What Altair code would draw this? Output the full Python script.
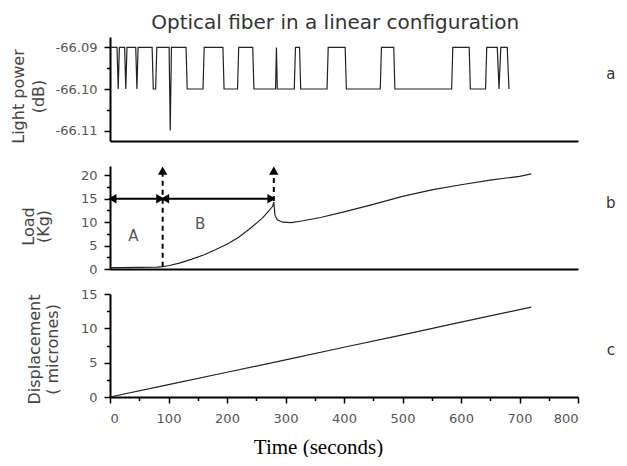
import altair as alt
import pandas as pd

# ---------------- data ----------------
# Panel a: light power (dB) square-wave signal
power_t = [0, 12, 14, 16, 25, 27, 29, 44, 46, 48, 72, 74, 78, 80, 101, 103, 105,
           130, 132, 159, 161, 193, 195, 218, 220, 244, 246, 283, 284.5, 286,
           315, 317, 324, 326, 371, 373, 402, 404, 462, 464, 485, 487, 584, 586,
           614, 616, 642, 644, 662, 665, 668, 679, 682]
power_v = [-66.09, -66.09, -66.10, -66.09, -66.09, -66.10, -66.09, -66.09, -66.10, -66.09,
           -66.09, -66.10, -66.10, -66.09, -66.09, -66.11, -66.09,
           -66.09, -66.10, -66.10, -66.09, -66.09, -66.10, -66.10, -66.09, -66.09, -66.10,
           -66.10, -66.09, -66.10,
           -66.10, -66.09, -66.09, -66.10, -66.10, -66.09, -66.09, -66.10, -66.10, -66.09,
           -66.09, -66.10, -66.10, -66.09,
           -66.09, -66.10, -66.10, -66.09, -66.09, -66.10, -66.09, -66.09, -66.10]

# Panel b: load (Kg)
load_t = [0, 20, 50, 80, 90, 100, 120, 140, 160, 180, 200, 220, 240, 260, 270, 278,
          280, 282, 286, 295, 310, 330, 360, 400, 450, 500, 550, 600, 650, 700, 720]
load_v = [0.3, 0.3, 0.35, 0.4, 0.5, 0.7, 1.3, 2.1, 3.0, 4.1, 5.3, 6.8, 8.7, 10.8, 12.2, 13.4,
          14.3, 11.5, 10.5, 10.0, 9.9, 10.3, 11.0, 12.2, 13.8, 15.5, 16.9, 18.0, 19.0, 19.8, 20.3]

# Panel c: displacement (microns)
disp_t = [0, 100, 200, 300, 400, 500, 600, 720]
disp_v = [0, 1.8, 3.6, 5.4, 7.25, 9.05, 10.9, 13.1]

# Annotations in panel b
vline_t = [90, 280]
vline_y0 = [0.5, 14.5]
vline_y1 = [21.0, 21.0]
hline_t0 = [0, 90]
hline_t1 = [90, 280]
hline_y = [15, 15]
head_left_t = [4, 94]
head_right_t = [86, 276]
head_up_y = [21.0, 21.0]
region_labels = ["A", "B"]
region_t = [40, 154]
region_y = [7.1, 9.6]

panel_letters = ["a", "b", "c"]
letter_t = 856
letter_y = [-66.0963, 14.1, 6.8]

title_text = "Optical fiber in a linear configuration"
title_t = 385
title_y = -66.0856
x_title = "Time (seconds)"

x_major = list(range(0, 801, 100))
x_minor = list(range(50, 800, 100))
a_major = [-66.11, -66.10, -66.09]
a_minor = [-66.105, -66.095]
b_major = [0, 5, 10, 15, 20]
b_minor = [2.5, 7.5, 12.5, 17.5]
c_major = [0, 5, 10, 15]
c_minor = [2.5, 7.5, 12.5]

# ---------------- styles ----------------
W = 468
LINE = "#222222"
SANS = "DejaVu Sans"
LABEL_COLOR = "#555555"
TITLE_COLOR = "#444444"

x_scale = alt.Scale(domain=[0, 800], nice=False)
a_scale = alt.Scale(domain=[-66.1125, -66.0875], nice=False, zero=False)
b_scale = alt.Scale(domain=[0, 22], nice=False)
c_scale = alt.Scale(domain=[0, 15], nice=False)


def y_major(values, label_expr, title, tx, ty, lh):
    return alt.Axis(
        orient="left", values=values, labelExpr=label_expr, labelOverlap=False,
        tickSize=6, tickWidth=1.5, tickColor="black",
        domainColor="black", domainWidth=2, grid=False,
        labelFont=SANS, labelFontSize=13, labelColor=LABEL_COLOR, labelPadding=7,
        title=title, titleFont=SANS, titleFontSize=16, titleFontWeight="normal",
        titleColor=TITLE_COLOR, titleAngle=-90, titleAlign="center", titleBaseline="top",
        titleX=tx, titleY=ty, titleLineHeight=lh,
    )


def minor_axis(orient, values):
    return alt.Axis(orient=orient, values=values, labels=False, domain=False, grid=False,
                    tickSize=3.5, tickWidth=1.5, tickColor="black", title=None)


x_plain = alt.Axis(values=[0, 800], labels=False, ticks=False, title=None, grid=False,
                   domainColor="black", domainWidth=2)

# ---------------- panel a ----------------
df_a = pd.DataFrame({"t": power_t, "v": power_v})
line_a = alt.Chart(df_a).mark_line(color=LINE, strokeWidth=1.2).encode(
    x=alt.X("t:Q", scale=x_scale, axis=x_plain),
    y=alt.Y("v:Q", scale=a_scale,
            axis=y_major(a_major, "'-' + format(abs(datum.value), '.2f')",
                         ["Light power", "(dB)"], -100, 59, 20)),
)
lab_a = alt.Chart(pd.DataFrame({"t": [letter_t], "v": [letter_y[0]], "s": [panel_letters[0]]})).mark_text(
    font=SANS, fontSize=15, color="#333333", align="center", baseline="middle"
).encode(x=alt.X("t:Q", scale=x_scale, axis=x_plain),
         y=alt.Y("v:Q", scale=a_scale, axis=minor_axis("left", a_minor)),
         text="s:N")
title_a = alt.Chart(pd.DataFrame({"t": [title_t], "v": [title_y], "s": [title_text]})).mark_text(
    font=SANS, fontSize=20, color="#333333", align="center", baseline="alphabetic"
).encode(x=alt.X("t:Q", scale=x_scale, axis=x_plain),
         y=alt.Y("v:Q", scale=a_scale, axis=None),
         text="s:N")

panel_a = alt.layer(line_a, lab_a, title_a).resolve_axis(y="independent").properties(
    width=W, height=104)

# ---------------- panel b ----------------
df_b = pd.DataFrame({"t": load_t, "v": load_v})
line_b = alt.Chart(df_b).mark_line(color=LINE, strokeWidth=1.2).encode(
    x=alt.X("t:Q", scale=x_scale, axis=x_plain),
    y=alt.Y("v:Q", scale=b_scale,
            axis=y_major(b_major, "format(datum.value, 'd')", ["Load", "(Kg)"], -90, 60, 15)),
)
df_vl = pd.DataFrame({"t": vline_t, "y0": vline_y0, "y1": vline_y1})
vrules = alt.Chart(df_vl).mark_rule(color="black", strokeWidth=2, strokeDash=[5, 4]).encode(
    x=alt.X("t:Q", scale=x_scale, axis=x_plain),
    y=alt.Y("y0:Q", scale=b_scale, axis=None), y2="y1:Q")
df_hl = pd.DataFrame({"t0": hline_t0, "t1": hline_t1, "y": hline_y})
hrules = alt.Chart(df_hl).mark_rule(color="black", strokeWidth=2).encode(
    x=alt.X("t0:Q", scale=x_scale, axis=x_plain), x2="t1:Q",
    y=alt.Y("y:Q", scale=b_scale, axis=None))
heads_l = alt.Chart(pd.DataFrame({"t": head_left_t, "y": hline_y})).mark_point(
    shape="triangle-left", filled=True, color="black", size=90, opacity=1).encode(
    x=alt.X("t:Q", scale=x_scale, axis=x_plain), y=alt.Y("y:Q", scale=b_scale, axis=None))
heads_r = alt.Chart(pd.DataFrame({"t": head_right_t, "y": hline_y})).mark_point(
    shape="triangle-right", filled=True, color="black", size=90, opacity=1).encode(
    x=alt.X("t:Q", scale=x_scale, axis=x_plain), y=alt.Y("y:Q", scale=b_scale, axis=None))
heads_u = alt.Chart(pd.DataFrame({"t": vline_t, "y": head_up_y})).mark_point(
    shape="triangle-up", filled=True, color="black", size=90, opacity=1).encode(
    x=alt.X("t:Q", scale=x_scale, axis=x_plain), y=alt.Y("y:Q", scale=b_scale, axis=None))
reg_txt = alt.Chart(pd.DataFrame({"t": region_t, "y": region_y, "s": region_labels})).mark_text(
    font=SANS, fontSize=15, color="#555555").encode(
    x=alt.X("t:Q", scale=x_scale, axis=x_plain), y=alt.Y("y:Q", scale=b_scale, axis=None),
    text="s:N")
lab_b = alt.Chart(pd.DataFrame({"t": [letter_t], "y": [letter_y[1]], "s": [panel_letters[1]]})).mark_text(
    font=SANS, fontSize=15, color="#333333", align="center", baseline="middle"
).encode(x=alt.X("t:Q", scale=x_scale, axis=x_plain),
         y=alt.Y("y:Q", scale=b_scale, axis=minor_axis("left", b_minor)), text="s:N")

panel_b = alt.layer(line_b, vrules, hrules, heads_l, heads_r, heads_u, reg_txt, lab_b).resolve_axis(
    y="independent").properties(width=W, height=103)

# ---------------- panel c ----------------
df_c = pd.DataFrame({"t": disp_t, "v": disp_v})
x_axis_c = alt.Axis(
    orient="bottom", values=x_major, labelOverlap=False, format="d",
    tickSize=6, tickWidth=1.5, tickColor="black", domainColor="black", domainWidth=2, grid=False,
    labelFont=SANS, labelFontSize=13, labelColor=LABEL_COLOR, labelPadding=9,
    title=x_title, titleFont="Liberation Serif", titleFontSize=21, titleFontWeight="normal",
    titleColor="black", titleX=208, titleY=56, titleAlign="center", titleBaseline="alphabetic",
)
line_c = alt.Chart(df_c).mark_line(color=LINE, strokeWidth=1.2).encode(
    x=alt.X("t:Q", scale=x_scale, axis=x_axis_c),
    y=alt.Y("v:Q", scale=c_scale,
            axis=y_major(c_major, "format(datum.value, 'd')", ["Displacement", "( micrones)"],
                         -84, 55, 18)),
)
lab_c = alt.Chart(pd.DataFrame({"t": [letter_t], "y": [letter_y[2]], "s": [panel_letters[2]]})).mark_text(
    font=SANS, fontSize=15, color="#333333", align="center", baseline="middle"
).encode(x=alt.X("t:Q", scale=x_scale, axis=minor_axis("bottom", x_minor)),
         y=alt.Y("y:Q", scale=c_scale, axis=minor_axis("left", c_minor)), text="s:N")

panel_c = alt.layer(line_c, lab_c).resolve_axis(x="independent", y="independent").properties(
    width=W, height=103)

chart = alt.vconcat(panel_a, panel_b, panel_c, spacing=25, bounds="flush").properties(
    padding={"left": 2, "top": 5, "right": 0, "bottom": 0},
    background="white",
).configure_view(stroke=None)

chart.save("out.html", embed_options={"renderer": "svg", "actions": False})
